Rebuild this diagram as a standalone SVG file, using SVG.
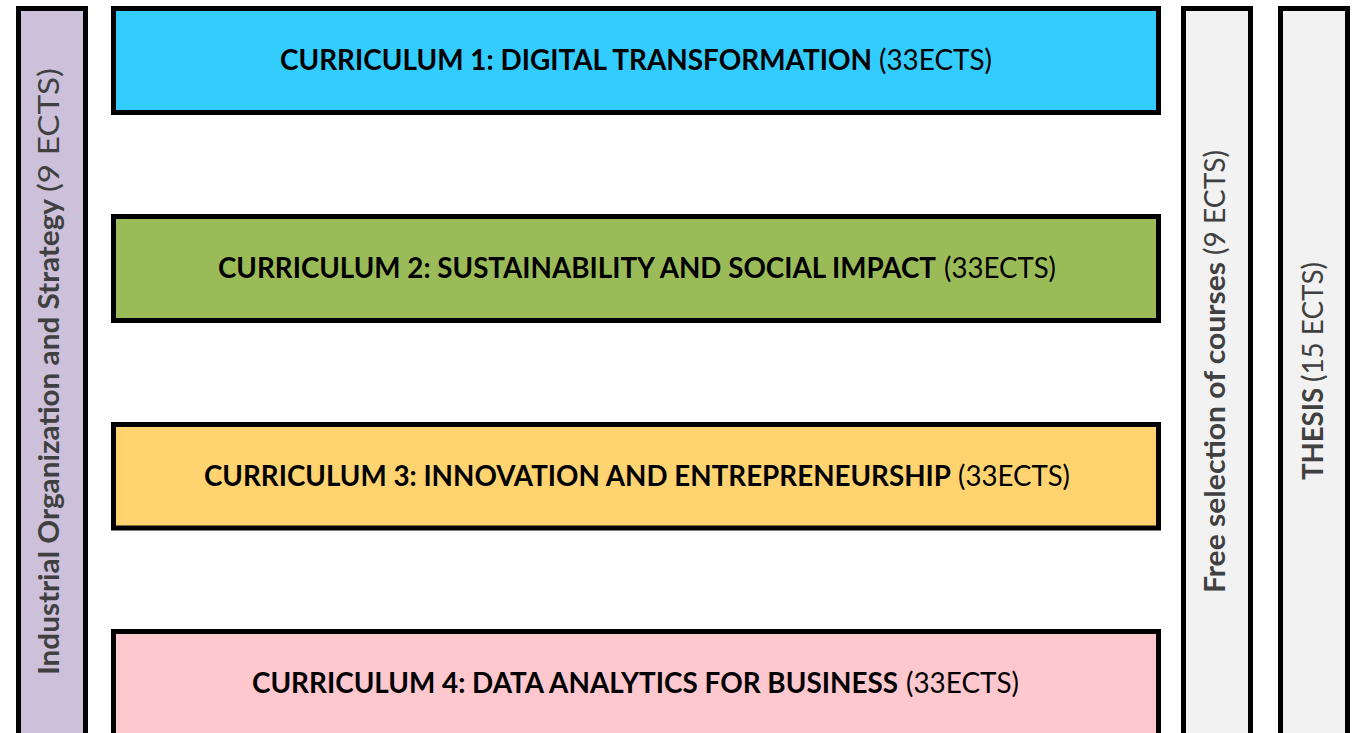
<svg xmlns="http://www.w3.org/2000/svg" width="1353" height="733" viewBox="0 0 1353 733">
<style>
.box{stroke:#000;stroke-width:5}
.t{font-family:Lato,"Open Sans","Liberation Sans",sans-serif;font-size:28px}
.b{font-weight:bold}
.h{fill:#000}
.v{fill:#404040}
</style>
<rect width="1353" height="733" fill="#fff"/>
<g id="industrial">
<rect class="box" x="18.5" y="8.5" width="67" height="800" fill="#CCC0DA"/>
<g transform="translate(59,675) rotate(-90)">
<text class="t b v" x="0" y="0" textLength="476" lengthAdjust="spacingAndGlyphs">Industrial Organization and Strategy</text>
<text class="t v" x="483" y="0" textLength="124" lengthAdjust="spacingAndGlyphs">(9 ECTS)</text>
</g>
</g>
<g id="curriculum1">
<rect class="box" x="113.5" y="8.5" width="1045" height="104" fill="#33CCFF"/>
<text class="t b h" x="280" y="70" textLength="592" lengthAdjust="spacingAndGlyphs">CURRICULUM 1: DIGITAL TRANSFORMATION</text>
<text class="t h" x="879" y="70" textLength="113" lengthAdjust="spacingAndGlyphs">(33ECTS)</text>
</g>
<g id="curriculum2">
<rect class="box" x="113.5" y="216.5" width="1045" height="104" fill="#9BBB59"/>
<text class="t b h" x="218" y="278" textLength="718" lengthAdjust="spacingAndGlyphs">CURRICULUM 2: SUSTAINABILITY AND SOCIAL IMPACT</text>
<text class="t h" x="944" y="278" textLength="112" lengthAdjust="spacingAndGlyphs">(33ECTS)</text>
</g>
<g id="curriculum3">
<rect class="box" x="113.5" y="424.5" width="1045" height="103.5" fill="#FFD470"/>
<text class="t b h" x="204" y="486" textLength="747" lengthAdjust="spacingAndGlyphs">CURRICULUM 3: INNOVATION AND ENTREPRENEURSHIP</text>
<text class="t h" x="958" y="486" textLength="112" lengthAdjust="spacingAndGlyphs">(33ECTS)</text>
</g>
<g id="curriculum4">
<rect class="box" x="113.5" y="631.5" width="1045" height="200" fill="#FFC7CE"/>
<text class="t b h" x="252" y="693" textLength="646" lengthAdjust="spacingAndGlyphs">CURRICULUM 4: DATA ANALYTICS FOR BUSINESS</text>
<text class="t h" x="906" y="693" textLength="113" lengthAdjust="spacingAndGlyphs">(33ECTS)</text>
</g>
<g id="free-selection">
<rect class="box" x="1183.5" y="8.5" width="67" height="800" fill="#F2F2F2"/>
<g transform="translate(1225,593) rotate(-90)">
<text class="t b v" x="0" y="0" textLength="331" lengthAdjust="spacingAndGlyphs">Free selection of courses</text>
<text class="t v" x="338" y="0" textLength="105" lengthAdjust="spacingAndGlyphs">(9 ECTS)</text>
</g>
</g>
<g id="thesis">
<rect class="box" x="1280.5" y="8.5" width="67" height="800" fill="#F2F2F2"/>
<g transform="translate(1323,480) rotate(-90)">
<text class="t b v" x="0" y="0" textLength="92" lengthAdjust="spacingAndGlyphs">THESIS</text>
<text class="t v" x="98" y="0" textLength="120" lengthAdjust="spacingAndGlyphs">(15 ECTS)</text>
</g>
</g>
<g id="connectors"></g>
</svg>
